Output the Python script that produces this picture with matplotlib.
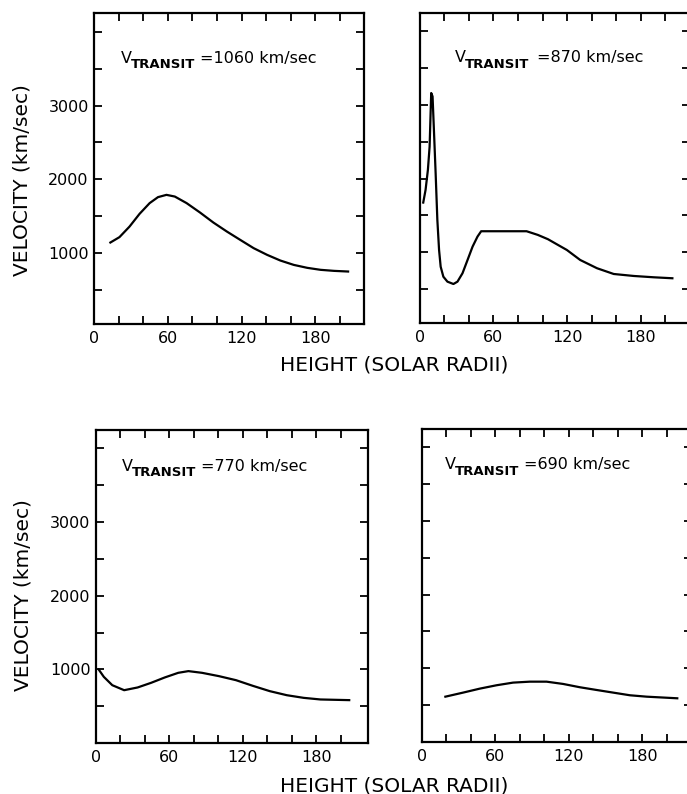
import numpy as np
import matplotlib
matplotlib.use('Agg')
import matplotlib.pyplot as plt

plt.rcParams['font.family'] = ['DejaVu Sans']

# curves (height in solar radii, velocity in km/sec)
h_1060 = [13.1, 20.5, 28.7, 36.9, 45.1, 51.9, 58.8, 65.6, 75.2, 86.1, 97.0,
          108.0, 118.9, 129.8, 140.8, 151.6, 162.5, 173.5, 184.4, 195.3, 206.8]
v_1060 = [1144, 1217, 1360, 1533, 1678, 1759, 1790, 1767, 1678, 1551, 1415,
          1293, 1180, 1068, 977, 900, 841, 801, 774, 760, 751]

h_870 = [2.8, 4.7, 6.6, 8.0, 8.8, 9.3, 10.4, 11.5, 12.9, 14.3, 15.7, 17.0,
         19.2, 22.5, 27.4, 30.7, 34.8, 38.9, 43.0, 47.0, 50.0, 87.0, 96.2,
         104.4, 112.6, 119.8, 130.7, 144.4, 158.0, 174.4, 190.8, 205.8]
v_870 = [1674, 1846, 2118, 2435, 2889, 3160, 3114, 2662, 2073, 1439, 1031, 804,
         668, 601, 569, 601, 715, 895, 1076, 1212, 1285, 1285, 1235,
         1177, 1099, 1031, 895, 783, 705, 678, 660, 647]

h_770 = [2.2, 6.4, 13.3, 23.0, 34.0, 45.0, 56.2, 67.2, 75.5, 86.6, 100.4,
         114.4, 128.2, 142.0, 155.9, 169.7, 183.4, 206.9]
v_770 = [998, 898, 785, 717, 754, 817, 890, 953, 976, 953, 908,
         853, 776, 704, 649, 613, 591, 582]

h_690 = [19.3, 33.7, 47.3, 61.0, 74.5, 88.2, 101.8, 115.3, 129.0, 142.6,
         156.2, 169.8, 183.4, 208.4]
v_690 = [612, 667, 721, 767, 803, 816, 816, 785, 740, 703,
         667, 631, 612, 590]

transit = ['1060', '870', '770', '690']

x_ticks = list(range(0, 201, 20))
x_labels = ['0', '', '', '60', '', '', '120', '', '', '180', '']
y_ticks = list(range(500, 4001, 500))
y_labels = ['', '1000', '', '2000', '', '3000', '', '']

W, H = 687, 794
fig = plt.figure(figsize=(W / 100, H / 100), dpi=100)


def panel(left, top, right, bottom, ylim, xlim, show_y):
    ax = fig.add_axes([left / W, 1 - bottom / H, (right - left) / W, (bottom - top) / H])
    ax.set_xlim(*xlim)
    ax.set_ylim(*ylim)
    for s in ax.spines.values():
        s.set_linewidth(1.6)
    ax.tick_params(direction='in', length=5.5, width=1.3, top=True, right=True,
                   labelsize=11.5, color='black')
    ax.tick_params(axis='x', pad=5)
    ax.tick_params(axis='y', pad=4)
    ax.set_xticks(x_ticks)
    ax.set_xticklabels(x_labels)
    ax.set_yticks(y_ticks)
    ax.set_yticklabels(y_labels if show_y else [''] * len(y_labels))
    return ax


def transit_label(ax, x, y, value, gap):
    ax.annotate('V', xy=(x, y), fontsize=11.5, va='baseline')
    ax.annotate('TRANSIT', xy=(x, y), xytext=(7, -4), textcoords='offset points',
                fontsize=9.5, va='baseline', fontweight='bold')
    ax.annotate('=' + value + ' km/sec', xy=(x, y), xytext=(gap, 0),
                textcoords='offset points', fontsize=11.5, va='baseline')


ax1 = panel(94.3, 13.3, 364.3, 324, (40, 4250), (0, 220), True)
ax2 = panel(419.8, 12.7, 689.8, 323, (40, 4250), (0, 220), False)
ax3 = panel(96, 430, 367.7, 743, (0, 4250), (0, 222), True)
ax4 = panel(421.7, 429, 691.5, 741.7, (0, 4250), (0, 220), False)

for ax, h, v in [(ax1, h_1060, v_1060), (ax2, h_870, v_870),
                 (ax3, h_770, v_770), (ax4, h_690, v_690)]:
    ax.plot(h, v, color='black', linewidth=1.6, solid_joinstyle='round')

transit_label(ax1, 22, 3580, transit[0], 57)
transit_label(ax2, 28.5, 3580, transit[1], 59)
transit_label(ax3, 21, 3700, transit[2], 57)
transit_label(ax4, 19, 3700, transit[3], 57)

fig.text(22 / W, 1 - 180 / H, 'VELOCITY (km/sec)', rotation=90, fontsize=14.5,
         ha='center', va='center')
fig.text(23 / W, 1 - 595 / H, 'VELOCITY (km/sec)', rotation=90, fontsize=14.5,
         ha='center', va='center')
fig.text(394 / W, 1 - 365 / H, 'HEIGHT (SOLAR RADII)', fontsize=14.5,
         ha='center', va='center')
fig.text(394 / W, 1 - 786 / H, 'HEIGHT (SOLAR RADII)', fontsize=14.5,
         ha='center', va='center')

fig.savefig('out.png', dpi=100, facecolor='white')
